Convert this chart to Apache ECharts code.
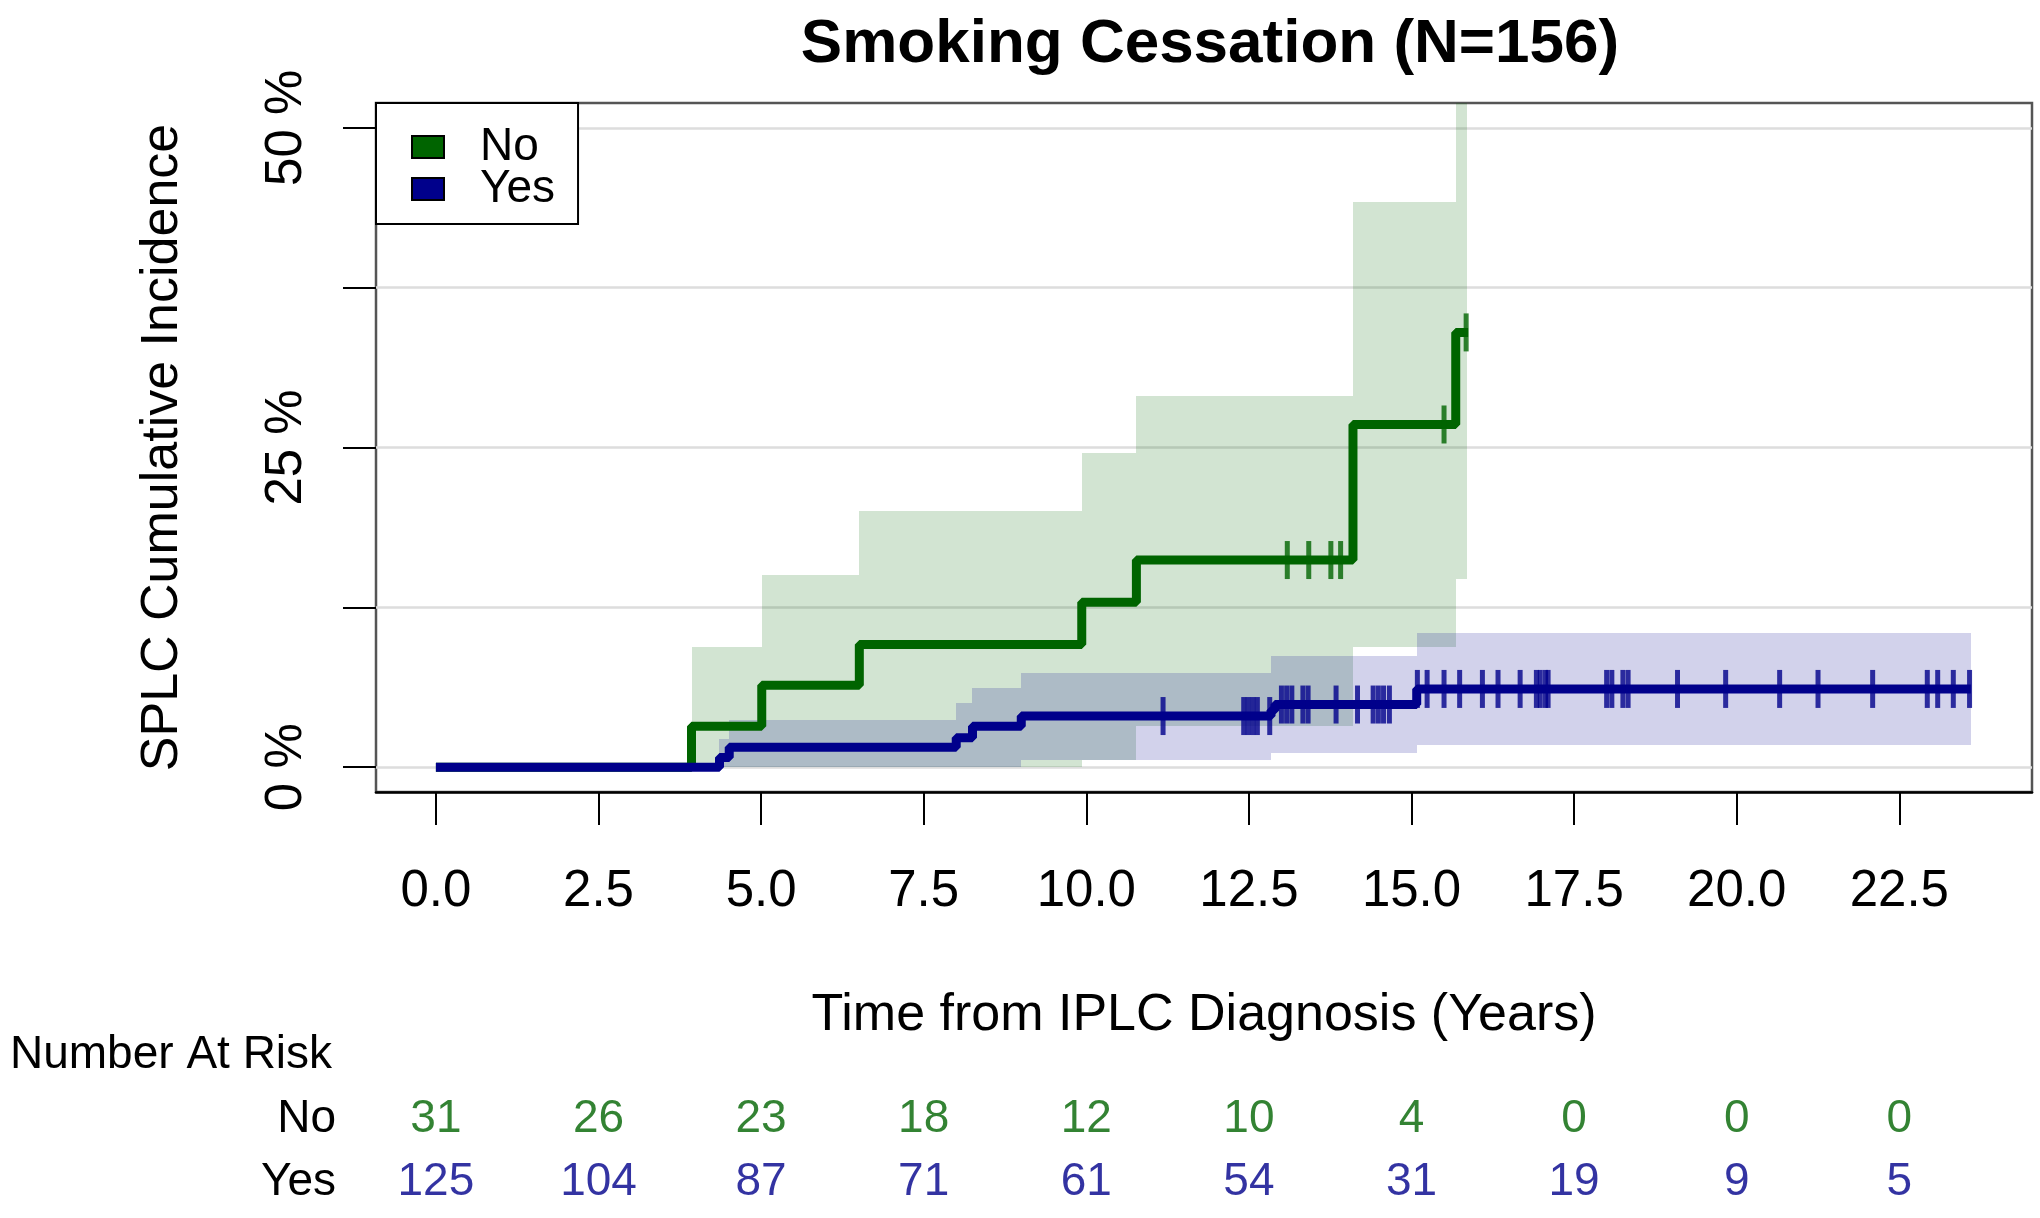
<!DOCTYPE html>
<html><head><meta charset="utf-8">
<script src="https://cdn.jsdelivr.net/npm/echarts@6/dist/echarts.min.js"></script>
<style>html,body{margin:0;padding:0;background:#fff}#c{width:2040px;height:1218px}</style>
</head><body><div id="c"></div>
<script>
// ---- data (percent cumulative incidence vs years) ----
const noStepTime = [0, 3.93, 5.01, 6.51, 9.93, 10.77, 14.10, 15.68, 15.87];
const noStepCI   = [0, 3.2, 6.4, 9.6, 12.9, 16.2, 26.8, 34.0, 34.0];
const yesStepTime = [0, 4.36, 4.51, 8.00, 8.25, 9.00, 12.84, 12.90, 15.08, 23.60];
const yesStepCI   = [0, 0.75, 1.55, 2.3, 3.2, 4.0, 4.45, 4.9, 6.12, 6.12];

const noBandStart = [3.93, 5.01, 6.51, 9.93, 10.77, 14.10, 15.68];
const noBandEnd   = [5.01, 6.51, 9.93, 10.77, 14.10, 15.68, 15.85];
const noBandLow   = [0, 0, 0, 0.6, 3.2, 9.4, 14.7];
const noBandHigh  = [9.4, 15.0, 20.0, 24.6, 29.0, 44.2, 100];

const yesBandStart = [4.36, 4.51, 8.00, 8.25, 9.00, 12.84, 15.08];
const yesBandEnd   = [4.51, 8.00, 8.25, 9.00, 12.84, 15.08, 23.60];
const yesBandLow   = [0, 0, 0, 0, 0.59, 1.12, 1.75];
const yesBandHigh  = [2.2, 3.72, 5.0, 6.2, 7.37, 8.66, 10.5];

const noCensor  = [13.09, 13.42, 13.76, 13.91, 15.50, 15.84];
const yesCensor = [11.18, 12.42, 12.49, 12.56, 12.63, 12.82, 13.00, 13.08, 13.16, 13.33, 13.41,
  13.84, 14.17, 14.41, 14.49, 14.57, 14.66, 15.09, 15.24, 15.50, 15.74, 16.09, 16.33, 16.67,
  16.92, 16.98, 17.06, 17.10, 18.00, 18.08, 18.25, 18.33, 19.09, 19.83, 20.66, 21.25, 22.09,
  22.93, 23.09, 23.33, 23.58];

const xTicks = [0, 2.5, 5, 7.5, 10, 12.5, 15, 17.5, 20, 22.5];
const yTicks = [0, 12.5, 25, 37.5, 50];
const yLabels = [0, 25, 50];

const riskTimes = [0, 2.5, 5, 7.5, 10, 12.5, 15, 17.5, 20, 22.5];
const riskNo  = [31, 26, 23, 18, 12, 10, 4, 0, 0, 0];
const riskYes = [125, 104, 87, 71, 61, 54, 31, 19, 9, 5];
const groups = ['No', 'Yes'];

// ---- styling ----
const GREEN = '#006400', BLUE = '#00008B';
const GREEN_BAND = 'rgba(0,100,0,0.175)', BLUE_BAND = 'rgba(0,0,139,0.175)';
const FONT = "'Liberation Sans', Arial, Helvetica, sans-serif";
const X_MIN = -0.921, X_MAX = 24.54, Y_MIN = -1.94, Y_MAX = 51.94;

function stepAt(times, vals, t) {
  let v = vals[0];
  for (let i = 0; i < times.length; i++) if (times[i] <= t) v = vals[i];
  return v;
}
function zip2(a, b) { return a.map((v, i) => [v, b[i]]); }
function bandData(s, e, lo, hi) { return s.map((v, i) => [v, e[i], lo[i], hi[i]]); }

function bandRender(color) {
  return function (params, api) {
    const p0 = api.coord([api.value(0), api.value(3)]);
    const p1 = api.coord([api.value(1), api.value(2)]);
    const x0 = Math.round(p0[0]), x1 = Math.round(p1[0]);
    const y0 = Math.round(p0[1]), y1 = Math.round(p1[1]);
    const rect = echarts.graphic.clipRectByRect(
      { x: x0, y: y0, width: x1 - x0, height: y1 - y0 },
      { x: params.coordSys.x, y: params.coordSys.y, width: params.coordSys.width, height: params.coordSys.height });
    if (!rect) return null;
    return { type: 'rect', shape: rect, style: { fill: color } };
  };
}

const chart = echarts.init(document.getElementById('c'), null, { renderer: 'canvas' });
const option = {
  animation: false,
  backgroundColor: '#fff',
  textStyle: { fontFamily: FONT },
  title: {
    text: 'Smoking Cessation (N=156)', left: 1205, top: 9, textAlign: 'center',
    textStyle: { fontSize: 62, fontWeight: 'bold', color: '#000', fontFamily: FONT }
  },
  graphic: [{
    type: 'text', x: 10, y: 1055,
    style: { text: 'Number At Risk', fontSize: 46, fontFamily: FONT, fill: '#000', verticalAlign: 'middle', align: 'left' }
  }],
  legend: {
    left: 376, top: 103, orient: 'vertical',
    padding: [21, 23, 12, 35], itemGap: -4, itemWidth: 32, itemHeight: 22,
    borderColor: '#000', borderWidth: 2, backgroundColor: '#fff', selectedMode: false,
    textStyle: { fontSize: 46, color: '#000', fontFamily: FONT, padding: [0, 0, 0, 31] },
    data: [
      { name: 'No', icon: 'rect', itemStyle: { color: GREEN, borderColor: '#000', borderWidth: 2 } },
      { name: 'Yes', icon: 'rect', itemStyle: { color: BLUE, borderColor: '#000', borderWidth: 2 } }
    ],
    z: 10
  },
  grid: [
    { left: 376, right: 8, top: 103, bottom: 426, show: true, borderColor: '#555', borderWidth: 2.5, backgroundColor: '#fff' },
    { left: 376, right: 8, top: 1088, height: 126 }
  ],
  xAxis: [{
    type: 'value', min: X_MIN, max: X_MAX, gridIndex: 0,
    name: 'Time from IPLC Diagnosis (Years)', nameLocation: 'middle', nameGap: 198,
    nameTextStyle: { fontSize: 52, color: '#000', fontFamily: FONT },
    axisLine: { show: true, onZero: false, lineStyle: { color: '#000', width: 2.5 } },
    axisTick: { show: true, length: 33, lineStyle: { color: '#000', width: 2 }, customValues: xTicks },
    axisLabel: { show: true, margin: 74, fontSize: 51, color: '#000', fontFamily: FONT,
      customValues: xTicks, formatter: v => Number(v).toFixed(1) },
    splitLine: { show: false }
  }, {
    type: 'value', min: X_MIN, max: X_MAX, gridIndex: 1, show: false
  }],
  yAxis: [{
    type: 'value', min: Y_MIN, max: Y_MAX, gridIndex: 0,
    name: 'SPLC Cumulative Incidence', nameLocation: 'middle', nameGap: 187, nameMoveOverlap: false,
    nameTextStyle: { fontSize: 52, color: '#000', fontFamily: FONT },
    axisLine: { show: false, onZero: false },
    axisTick: { show: true, length: 33, lineStyle: { color: '#000', width: 2 }, customValues: yTicks },
    axisLabel: { show: true, margin: 64, rotate: 90, fontSize: 51, color: '#000', fontFamily: FONT,
      customValues: yLabels, formatter: v => Math.round(v) + ' %' },
    splitLine: { show: true, lineStyle: { color: '#dddddd', width: 2.5 } }
  }, {
    type: 'category', gridIndex: 1, data: groups, inverse: true,
    axisLine: { show: false }, axisTick: { show: false }, splitLine: { show: false },
    axisLabel: { margin: 40, fontSize: 46, color: '#000', fontFamily: FONT }
  }],
  series: [
    { name: 'No band', type: 'custom', xAxisIndex: 0, yAxisIndex: 0, z: 1,
      renderItem: bandRender(GREEN_BAND), encode: { x: [0, 1], y: [2, 3] },
      data: bandData(noBandStart, noBandEnd, noBandLow, noBandHigh), silent: true },
    { name: 'Yes band', type: 'custom', xAxisIndex: 0, yAxisIndex: 0, z: 2,
      renderItem: bandRender(BLUE_BAND), encode: { x: [0, 1], y: [2, 3] },
      data: bandData(yesBandStart, yesBandEnd, yesBandLow, yesBandHigh), silent: true },
    { name: 'No', type: 'line', step: 'end', z: 3, showSymbol: false, color: GREEN,
      lineStyle: { color: GREEN, width: 9 }, data: zip2(noStepTime, noStepCI) },
    { name: 'Yes', type: 'line', step: 'end', z: 4, showSymbol: false, color: BLUE,
      lineStyle: { color: BLUE, width: 9 }, data: zip2(yesStepTime, yesStepCI) },
    { name: 'No censor', type: 'scatter', z: 5, symbol: 'rect', symbolSize: [5, 38],
      itemStyle: { color: GREEN }, data: noCensor.map(t => [t, stepAt(noStepTime, noStepCI, t)]) },
    { name: 'Yes censor', type: 'scatter', z: 6, symbol: 'rect', symbolSize: [5, 38],
      itemStyle: { color: BLUE }, data: yesCensor.map(t => [t, stepAt(yesStepTime, yesStepCI, t)]) },
    { name: 'Risk No', type: 'scatter', xAxisIndex: 1, yAxisIndex: 1, symbolSize: 1,
      itemStyle: { color: 'rgba(0,0,0,0)' },
      label: { show: true, position: 'inside', formatter: p => String(p.value[2]), color: GREEN, fontSize: 46, fontFamily: FONT },
      data: riskTimes.map((t, i) => [t, 'No', riskNo[i]]) },
    { name: 'Risk Yes', type: 'scatter', xAxisIndex: 1, yAxisIndex: 1, symbolSize: 1,
      itemStyle: { color: 'rgba(0,0,0,0)' },
      label: { show: true, position: 'inside', formatter: p => String(p.value[2]), color: BLUE, fontSize: 46, fontFamily: FONT },
      data: riskTimes.map((t, i) => [t, 'Yes', riskYes[i]]) }
  ]
};
chart.setOption(option);
</script></body></html>
